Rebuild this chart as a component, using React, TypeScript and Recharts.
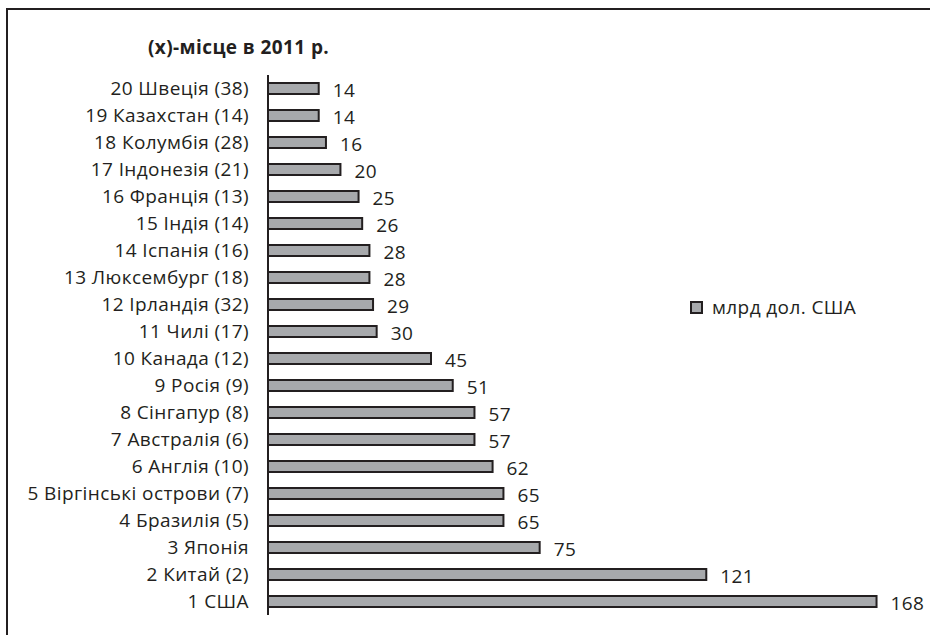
import { BarChart, Bar, XAxis, YAxis, LabelList } from 'recharts';

const countries = [
	'20 Швеція (38)',
	'19 Казахстан (14)',
	'18 Колумбія (28)',
	'17 Індонезія (21)',
	'16 Франція (13)',
	'15 Індія (14)',
	'14 Іспанія (16)',
	'13 Люксембург (18)',
	'12 Ірландія (32)',
	'11 Чилі (17)',
	'10 Канада (12)',
	'9 Росія (9)',
	'8 Сінгапур (8)',
	'7 Австралія (6)',
	'6 Англія (10)',
	'5 Віргінські острови (7)',
	'4 Бразилія (5)',
	'3 Японія',
	'2 Китай (2)',
	'1 США',
];

const values = [14, 14, 16, 20, 25, 26, 28, 28, 29, 30, 45, 51, 57, 57, 62, 65, 65, 75, 121, 168];

const seriesName = 'млрд дол. США';
const title = '(x)-місце в 2011 р.';

const data = countries.map((country, i) => ({ country, value: values[i] }));

const INK = '#231f20';
const FILL = '#a7a9ac';
const FONT = '"Open Sans", sans-serif';
const SPACING = '0.4px';

export default function App() {
	return (
		<div
			style={{
				position: 'fixed',
				left: 0,
				top: 0,
				width: 930,
				height: 635,
				overflow: 'hidden',
				background: '#fff',
			}}
		>
			<div
				style={{
					position: 'absolute',
					left: 6,
					top: 8,
					width: 1000,
					height: 800,
					border: `2px solid ${INK}`,
				}}
			/>
			<div
				style={{
					position: 'absolute',
					left: 148,
					top: 34,
					fontFamily: FONT,
					fontWeight: 700,
					fontSize: 19,
					letterSpacing: SPACING,
					color: INK,
				}}
			>
				{title}
			</div>
			<div
				style={{
					position: 'absolute',
					left: 690,
					top: 294,
					display: 'flex',
					alignItems: 'center',
					fontFamily: FONT,
					fontSize: 19,
					letterSpacing: SPACING,
					color: INK,
				}}
			>
				<span
					style={{
						display: 'inline-block',
						width: 9,
						height: 9,
						background: FILL,
						border: `2px solid ${INK}`,
						marginRight: 9,
					}}
				/>
				{seriesName}
			</div>
			<div style={{ position: 'absolute', left: 0, top: 0 }}>
				<BarChart
					layout='vertical'
					data={data}
					width={930}
					height={635}
					margin={{ top: 75, right: 10, bottom: 20, left: 0 }}
				>
					<XAxis type='number' domain={[0, 180]} hide />
					<YAxis
						type='category'
						dataKey='country'
						width={268}
						tickLine={false}
						tickSize={0}
						tickMargin={19}
						axisLine={{ stroke: INK, strokeWidth: 2 }}
						tick={{ fill: INK, fontSize: 19, fontFamily: FONT, letterSpacing: SPACING }}
						interval={0}
					/>
					<Bar
						dataKey='value'
						name={seriesName}
						fill={FILL}
						stroke={INK}
						strokeWidth={2}
						barSize={11}
						isAnimationActive={false}
					>
						<LabelList
							dataKey='value'
							position='right'
							offset={14}
							fill={INK}
							fontSize={19}
							fontFamily={FONT}
							letterSpacing={SPACING}
							dy={2}
						/>
					</Bar>
				</BarChart>
			</div>
		</div>
	);
}
